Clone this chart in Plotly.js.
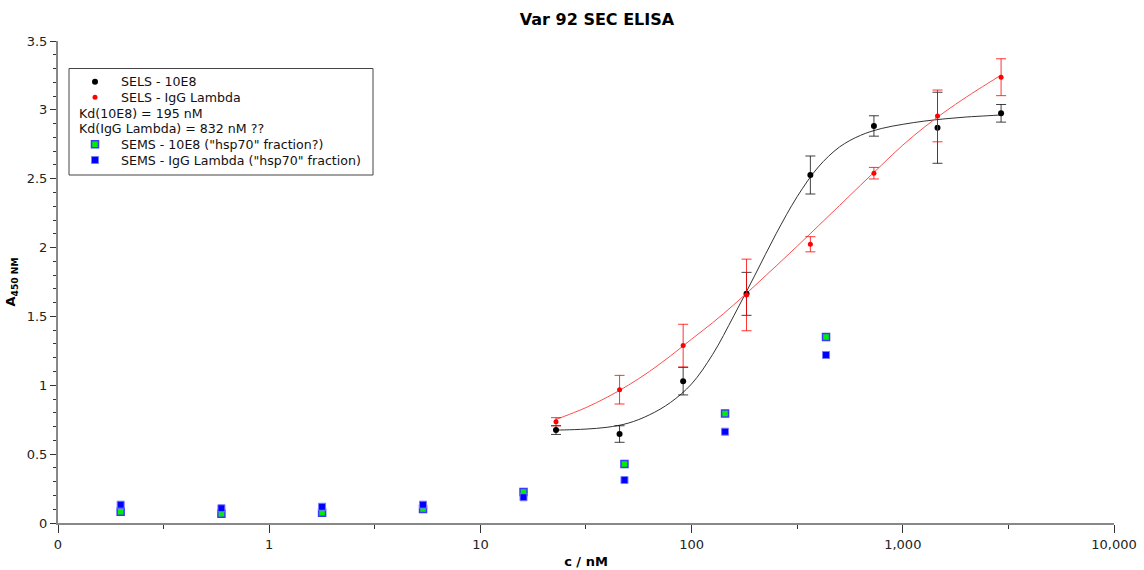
<!DOCTYPE html>
<html>
<head>
<meta charset="utf-8">
<script src="https://cdn.plot.ly/plotly-3.0.1.min.js"></script>
<style>html,body{margin:0;padding:0;background:#fff;}#chart{width:1144px;height:570px;}</style>
</head>
<body>
<div id="chart"></div>
<script>
// ---- data ----
const concSELS = [22.8, 45.6, 91.2, 182, 365, 730, 1460, 2920];
const sels10E8 = [0.675, 0.646, 1.03, 1.664, 2.527, 2.883, 2.870, 2.975];
const sels10E8Err = [0.032, 0.06, 0.1, 0.156, 0.138, 0.074, 0.258, 0.064];
const selsIgG = [0.735, 0.968, 1.288, 1.656, 2.024, 2.54, 2.956, 3.237];
const selsIgGErr = [0.03, 0.104, 0.155, 0.26, 0.055, 0.042, 0.188, 0.134];

// fitted curves
const fitConc10E8 = [22.8, 25.1, 31.6, 39.8, 50.1, 63.1, 79.4, 100, 125.9, 158.5, 199.5, 251.2, 316.2, 398.1, 501.2, 631, 794.3, 1000, 1259, 1585, 1995, 2512, 2918];
const fit10E8 = [0.675, 0.676, 0.682, 0.695, 0.725, 0.785, 0.875, 1.01, 1.225, 1.505, 1.80, 2.10, 2.37, 2.585, 2.73, 2.815, 2.865, 2.895, 2.918, 2.935, 2.948, 2.957, 2.963];
const fitConcIgG = [22.8, 25.1, 31.6, 39.8, 50.1, 63.1, 79.4, 100, 125.9, 158.5, 199.5, 251.2, 316.2, 398.1, 501.2, 631, 794.3, 1000, 1259, 1585, 1995, 2512, 2918];
const fitIgG = [0.752, 0.776, 0.838, 0.913, 1.0, 1.10, 1.213, 1.335, 1.455, 1.585, 1.724, 1.866, 2.010, 2.157, 2.305, 2.453, 2.600, 2.744, 2.872, 2.987, 3.092, 3.19, 3.252];

const concSEMS = [0.198, 0.594, 1.78, 5.35, 16.0, 48.1, 144, 433];
const sems10E8 = [0.082, 0.068, 0.075, 0.102, 0.225, 0.428, 0.796, 1.35];
const semsIgG = [0.133, 0.107, 0.118, 0.133, 0.187, 0.312, 0.663, 1.22];

const xTickVals = [0.1, 1, 10, 100, 1000, 10000];
const xTickText = ["0", "1", "10", "100", "1,000", "10,000"];
const xMinorVals = [0.316, 3.16, 31.6, 316, 3162];

const legendLabels = [
  "SELS - 10E8",
  "SELS - IgG Lambda",
  "Kd(10E8) = 195 nM",
  "Kd(IgG Lambda) = 832 nM ??",
  "SEMS - 10E8 (\"hsp70\" fraction?)",
  "SEMS - IgG Lambda (\"hsp70\" fraction)"
];

// ---- layout geometry ----
const W = 1144, H = 570;
const M = {l: 58, r: 30, t: 41, b: 47};
const PW = W - M.l - M.r, PH = H - M.t - M.b;
const px2x = p => (p - M.l) / PW;
const py2y = p => (H - M.b - p) / PH;
const FONT = "DejaVu Sans, Verdana, sans-serif";

const traces = [
  {x: fitConc10E8, y: fit10E8, mode: "lines", name: "fit 10E8", line: {color: "#333", width: 1, shape: "spline", smoothing: 1}, hoverinfo: "skip", showlegend: false},
  {x: fitConcIgG, y: fitIgG, mode: "lines", name: "fit IgG Lambda", line: {color: "#ff4d4d", width: 1, shape: "spline", smoothing: 1}, hoverinfo: "skip", showlegend: false},
  {x: concSEMS, y: sems10E8, mode: "markers", name: legendLabels[4],
   marker: {symbol: "square", size: 7, color: "#00ee00", line: {color: "#3a3aff", width: 1.5}}},
  {x: concSEMS, y: semsIgG, mode: "markers", name: legendLabels[5],
   marker: {symbol: "square", size: 7, color: "#0000ff", line: {color: "#7a7aff", width: 1}}},
  {x: concSELS, y: sels10E8, mode: "markers", name: legendLabels[0],
   marker: {color: "#000", size: 6},
   error_y: {type: "data", array: sels10E8Err, visible: true, color: "rgba(0,0,0,0.75)", thickness: 1, width: 5}},
  {x: concSELS, y: selsIgG, mode: "markers", name: legendLabels[1],
   marker: {color: "#ff0000", size: 5},
   error_y: {type: "data", array: selsIgGErr, visible: true, color: "rgba(255,0,0,0.8)", thickness: 1, width: 5}}
];

// custom legend (the Kd lines sit flush left, as in the reference)
const rowY = i => 81.7 + 15.66 * i;
const legShapes = [
  {type: "rect", xref: "paper", yref: "paper", x0: px2x(69), x1: px2x(373), y0: py2y(175), y1: py2y(68.5),
   line: {color: "#444", width: 1}, fillcolor: "rgba(255,255,255,1)", layer: "above"},
  {type: "circle", xref: "paper", yref: "paper", xsizemode: "pixel", ysizemode: "pixel",
   xanchor: px2x(95), yanchor: py2y(rowY(0)), x0: -3, x1: 3, y0: -3, y1: 3, fillcolor: "#000", line: {width: 0}, layer: "above"},
  {type: "circle", xref: "paper", yref: "paper", xsizemode: "pixel", ysizemode: "pixel",
   xanchor: px2x(95), yanchor: py2y(rowY(1)), x0: -2.5, x1: 2.5, y0: -2.5, y1: 2.5, fillcolor: "#ff0000", line: {width: 0}, layer: "above"},
  {type: "rect", xref: "paper", yref: "paper", xsizemode: "pixel", ysizemode: "pixel",
   xanchor: px2x(95), yanchor: py2y(rowY(4)), x0: -3.5, x1: 3.5, y0: -3.5, y1: 3.5, fillcolor: "#00ee00", line: {color: "#3a3aff", width: 1.5}, layer: "above"},
  {type: "rect", xref: "paper", yref: "paper", xsizemode: "pixel", ysizemode: "pixel",
   xanchor: px2x(95), yanchor: py2y(rowY(5)), x0: -3.5, x1: 3.5, y0: -3.5, y1: 3.5, fillcolor: "#0000ff", line: {color: "#7a7aff", width: 1}, layer: "above"}
];
const legX = [120, 120, 78, 78, 120, 120];
const legAnn = legendLabels.map((t, i) => ({
  text: t, xref: "paper", yref: "paper", x: px2x(legX[i]), y: py2y(rowY(i)),
  xanchor: "left", yanchor: "middle", showarrow: false, borderpad: 0,
  font: {family: FONT, size: 12.6, color: "#111"}
}));

const layout = {
  width: W, height: H,
  margin: M,
  paper_bgcolor: "#fff", plot_bgcolor: "#fff",
  showlegend: false,
  font: {family: FONT, size: 13, color: "#222"},
  title: {text: "Var 92 SEC ELISA", x: px2x(597), xref: "paper", xanchor: "center",
          y: 1 - 19 / H, yref: "container", yanchor: "middle",
          font: {family: FONT, size: 16, weight: 700, color: "#000"}},
  xaxis: {
    type: "log", range: [-1, 4],
    tickmode: "array", tickvals: xTickVals, ticktext: xTickText,
    ticks: "outside", ticklen: 8, tickwidth: 1, tickcolor: "#333",
    minor: {tickmode: "array", tickvals: xMinorVals, ticks: "outside", ticklen: 4, tickwidth: 1, tickcolor: "#333"},
    showline: true, linecolor: "#888", linewidth: 2, showgrid: false, zeroline: false,
    tickfont: {family: FONT, size: 13, color: "#222"},
    title: {text: "c / nM", font: {family: FONT, size: 13, weight: 700, color: "#000"}, standoff: 6}
  },
  yaxis: {
    range: [0, 3.5], tickmode: "linear", tick0: 0, dtick: 0.5,
    ticks: "outside", ticklen: 6, tickwidth: 1, tickcolor: "#333",
    minor: {dtick: 0.1, ticks: "outside", ticklen: 3, tickwidth: 1, tickcolor: "#333"},
    showline: true, linecolor: "#888", linewidth: 2, showgrid: false, zeroline: false,
    tickfont: {family: FONT, size: 13, color: "#222"},
    title: {text: "A<sub>450 NM</sub>", font: {family: FONT, size: 13, weight: 700, color: "#000"}, standoff: 8}
  },
  shapes: legShapes,
  annotations: legAnn
};

Plotly.newPlot("chart", traces, layout, {displayModeBar: false, staticPlot: true});
</script>
</body>
</html>
